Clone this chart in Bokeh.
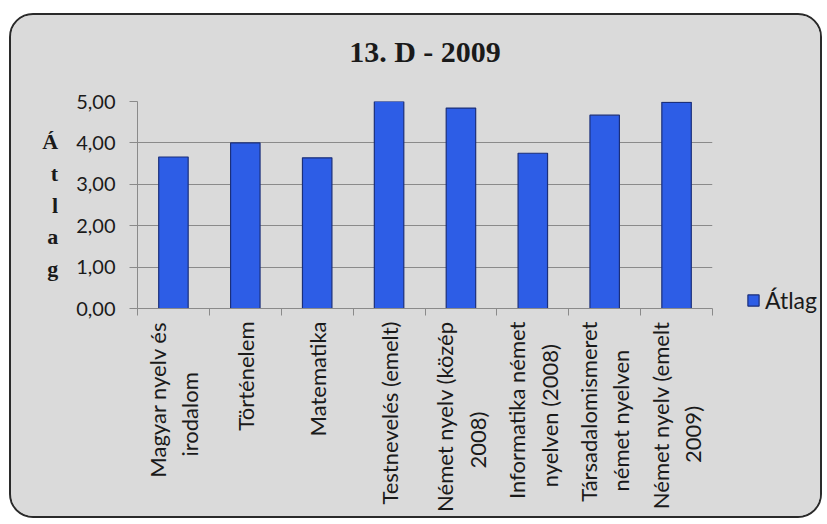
import math
from bokeh.plotting import figure
from bokeh.models import (Range1d, FixedTicker, CustomJSTickFormatter, LinearAxis,
                          Legend, LegendItem, ColumnDataSource)
from bokeh.embed import file_html
from bokeh.resources import INLINE

# Class 13. D, 2009 exam averages per subject
categories = [
    "Magyar nyelv és\nirodalom",
    "Történelem",
    "Matematika",
    "Testnevelés (emelt)",
    "Német nyelv (közép\n2008)",
    "Informatika német\nnyelven (2008)",
    "Társadalomismeret\nnémet nyelven",
    "Német nyelv (emelt\n2009)",
]
averages = [3.66, 4.00, 3.64, 5.00, 4.84, 3.75, 4.67, 4.98]
y_ticks = [0, 1, 2, 3, 4, 5]

BG = "#dadada"
GRID = "#8a8a8a"
BAR_FILL = "#2d5de6"
BAR_LINE = "#1b2f7a"
TEXT = "#1a1a1a"


def centred(label):
    """Pad the shorter line of a wrapped label so the lines sit centred
    (rotated tick labels are right-aligned line by line)."""
    lines = label.split("\n")
    if len(lines) == 1:
        return label
    # rough glyph width in "space" units for the label font
    def w(s):
        narrow = set("iljtfr ().,")
        wide = set("mMwNT")
        return sum(1.3 if c in narrow else (3.8 if c in wide else 2.7) for c in s)
    widest = max(w(s) for s in lines)
    out = []
    for s in lines:
        pad = int(round((widest - w(s)) / 2))
        out.append(s + " " * pad)
    return "\n".join(out)


n = len(categories)
centers = [i + 0.5 for i in range(n)]
bounds = list(range(n + 1))

src = ColumnDataSource(dict(x=centers, top=averages))

p = figure(frame_width=575, frame_height=207, x_range=Range1d(0, n), y_range=Range1d(0, 5),
           output_backend="svg", toolbar_location=None,
           min_border_left=126, min_border_right=112,
           min_border_top=86, min_border_bottom=210)

p.background_fill_color = BG
p.border_fill_color = BG
p.outline_line_color = None
# rounded chart-area frame; the box is clipped to the chart area size
p.styles = {
    "margin-left": "9px",
    "margin-top": "13px",
    "width": "813px",
    "height": "505px",
    "border": "2px solid #2a2a2a",
    "border-radius": "24px",
    "overflow": "hidden",
    "background-color": BG,
}

bars = p.vbar(x="x", top="top", width=0.41, source=src, fill_color=BAR_FILL,
              line_color=BAR_LINE, line_width=1.2)

# chart title, carried by a bare axis along the top of the plot area
top_axis = LinearAxis(ticker=FixedTicker(ticks=[]), axis_label="13. D - 2009",
                      axis_line_color=None, major_tick_line_color=None,
                      minor_tick_line_color=None, axis_label_standoff=34,
                      axis_label_text_font="Liberation Serif",
                      axis_label_text_font_style="bold",
                      axis_label_text_font_size="30px",
                      axis_label_text_color=TEXT)
p.add_layout(top_axis, "above")

# y axis with the stacked axis title
p.yaxis.ticker = FixedTicker(ticks=y_ticks)
p.yaxis.formatter = CustomJSTickFormatter(code="return tick.toFixed(2).replace('.', ',');")
p.yaxis.axis_line_color = GRID
p.yaxis.major_tick_line_color = GRID
p.yaxis.major_tick_out = 8
p.yaxis.major_tick_in = 0
p.yaxis.minor_tick_line_color = None
p.yaxis.major_label_standoff = 14
p.yaxis.major_label_text_font = "Lato"
p.yaxis.major_label_text_font_size = "20px"
p.yaxis.major_label_text_color = TEXT
p.yaxis.axis_label = "Á\nt\nl\na\ng"
p.yaxis.axis_label_orientation = "horizontal"
p.yaxis.axis_label_standoff = 15
p.yaxis.axis_label_text_font = "Liberation Serif"
p.yaxis.axis_label_text_font_style = "bold"
p.yaxis.axis_label_text_font_size = "22px"
p.yaxis.axis_label_text_line_height = 1.27
p.yaxis.axis_label_text_color = TEXT

p.ygrid.ticker = FixedTicker(ticks=y_ticks)
p.ygrid.grid_line_color = GRID
p.xgrid.visible = False

# x axis: labels at category centers, tick marks at category boundaries
xaxis = p.below[0]
xaxis.ticker = FixedTicker(ticks=centers, minor_ticks=bounds)
xaxis.major_label_overrides = {c: centred(lab) for c, lab in zip(centers, categories)}
xaxis.major_label_orientation = math.pi / 2
xaxis.axis_line_color = GRID
xaxis.major_tick_line_color = None
xaxis.major_tick_out = 0
xaxis.major_tick_in = 0
xaxis.minor_tick_line_color = GRID
xaxis.minor_tick_out = 7
xaxis.minor_tick_in = 0
xaxis.major_label_standoff = 6
xaxis.major_label_text_font = "Lato"
xaxis.major_label_text_font_size = "22px"
xaxis.major_label_text_line_height = 1.2
xaxis.major_label_text_color = TEXT

# legend to the right of the plot area
lg = Legend(items=[LegendItem(label="Átlag", renderers=[bars])],
            location=(34, -6), border_line_color=None, background_fill_alpha=0,
            padding=0, margin=0, glyph_width=14, glyph_height=14,
            label_standoff=5, label_text_font="Lato", label_text_font_size="23px",
            label_text_color=TEXT)
p.add_layout(lg, "right")

open("out.html", "w").write(file_html(p, INLINE))
